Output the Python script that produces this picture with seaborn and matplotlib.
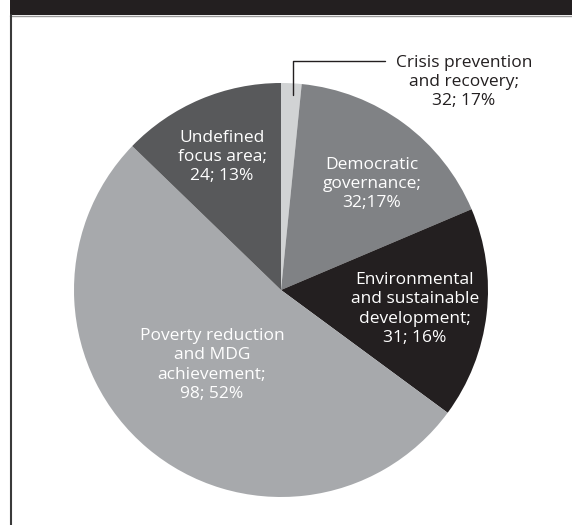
import matplotlib
matplotlib.use("Agg")
import matplotlib.pyplot as plt
from matplotlib.patches import Rectangle
from matplotlib.lines import Line2D
import seaborn as sns

# Projects by focus area (count per area)
areas = [
    "Crisis prevention and recovery",
    "Democratic governance",
    "Environmental and sustainable development",
    "Poverty reduction and MDG achievement",
    "Undefined focus area",
]
counts = [3, 32, 31, 98, 24]
label_texts = [
    "Crisis prevention\nand recovery;\n32; 17%",
    "Democratic\ngovernance;\n32;17%",
    "Environmental\nand sustainable\ndevelopment;\n31; 16%",
    "Poverty reduction\nand MDG\nachievement;\n98; 52%",
    "Undefined\nfocus area;\n24; 13%",
]
slice_colors = ["#d1d3d4", "#808285", "#231f20", "#a7a9ac", "#58595b"]

sns.set_theme(style="white")
plt.rcParams["font.family"] = ["Open Sans", "DejaVu Sans"]

W, H = 572, 525
fig = plt.figure(figsize=(W / 100, H / 100), dpi=100)
fig.patch.set_facecolor("white")

# pie geometry in pixels
cx, cy, r = 281, 290, 207
ax = fig.add_axes([(cx - r) / W, (H - cy - r) / H, 2 * r / W, 2 * r / H])
ax.pie(counts, colors=slice_colors, startangle=90, counterclock=False,
       radius=1.0, wedgeprops=dict(linewidth=0))
ax.set_xlim(-1, 1)
ax.set_ylim(-1, 1)
ax.set_aspect("equal")
ax.axis("off")


def px(x, y):
    return (x - cx) / r, -(y - cy) / r


label_pos = [(464, 82), (372, 184), (415, 309), (212, 365), (222, 157)]
label_colors = ["#231f20", "white", "white", "white", "white"]
for txt, (x, y), c in zip(label_texts, label_pos, label_colors):
    ax.text(*px(x, y), txt, ha="center", va="center", color=c,
            fontsize=12.5, linespacing=1.27, clip_on=False)

# leader line for the crisis slice
lx = [px(385, 61)[0], px(293, 61)[0], px(293, 95)[0]]
ly = [px(385, 61)[1], px(293, 61)[1], px(293, 95)[1]]
ax.add_line(Line2D(lx, ly, color="#231f20", lw=1.0, clip_on=False))

# frame: dark header band and left rule
fig.add_artist(Rectangle((10 / W, 1 - 15 / H), 1, 15 / H, transform=fig.transFigure,
                         facecolor="#231f20", edgecolor="none"))
fig.add_artist(Line2D([10 / W, 1], [1 - 15.5 / H, 1 - 15.5 / H], transform=fig.transFigure,
                      color="#9a9a9a", lw=1.0))
fig.add_artist(Line2D([10.5 / W, 10.5 / W], [0, 1 - 15 / H], transform=fig.transFigure,
                      color="#3a3a3a", lw=1.5))

fig.savefig("out.png", dpi=100)
